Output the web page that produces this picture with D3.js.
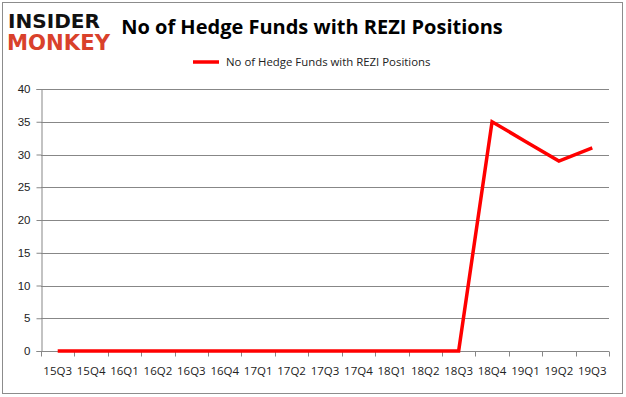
<!DOCTYPE html>
<html>
<head>
<meta charset="utf-8">
<script src="https://cdn.jsdelivr.net/npm/d3@7"></script>
<style>
  body { margin: 0; background: #fff; }
  svg { display: block; font-family: "Open Sans", "DejaVu Sans", sans-serif; }
</style>
</head>
<body>
<div id="chart"></div>
<script>
// chart data
var quarters = ["15Q3","15Q4","16Q1","16Q2","16Q3","16Q4","17Q1","17Q2","17Q3","17Q4",
                "18Q1","18Q2","18Q3","18Q4","19Q1","19Q2","19Q3"];
var funds = [0,0,0,0,0,0,0,0,0,0,0,0,0,35,32,29,31];
var yTicks = [0,5,10,15,20,25,30,35,40];
var seriesName = "No of Hedge Funds with REZI Positions";

var width = 626, height = 397;
var margin = {left: 41, right: 17, top: 89, bottom: 46};

var svg = d3.select("#chart").append("svg")
  .attr("width", width)
  .attr("height", height);

// outer frame
svg.append("rect")
  .attr("x", 2.5).attr("y", 2.5)
  .attr("width", 620).attr("height", 391)
  .attr("fill", "#fff")
  .attr("stroke", "#8c8c8c");

var x = d3.scaleBand()
  .domain(quarters)
  .range([margin.left, width - margin.right]);

var y = d3.scaleLinear()
  .domain([0, 40])
  .range([height - margin.bottom, margin.top]);

// gridlines
svg.append("g")
  .selectAll("line")
  .data(yTicks.filter(d => d > 0))
  .enter().append("line")
  .attr("x1", margin.left).attr("x2", width - margin.right)
  .attr("y1", d => Math.round(y(d)) + 0.5).attr("y2", d => Math.round(y(d)) + 0.5)
  .attr("stroke", "#878787");

// y axis
var yAxis = svg.append("g")
  .attr("transform", "translate(" + (margin.left + 0.5) + ",0)")
  .call(d3.axisLeft(y).tickValues(yTicks).tickSize(5).tickPadding(6));
yAxis.select(".domain").attr("stroke", "#878787");
yAxis.selectAll(".tick line").attr("stroke", "#878787");
yAxis.selectAll("text").attr("font-size", 11.5).attr("fill", "#222");

// x axis (ticks between categories)
var xAxisG = svg.append("g")
  .attr("transform", "translate(0," + (Math.round(y(0)) + 0.5) + ")");
xAxisG.append("line")
  .attr("x1", margin.left).attr("x2", width - margin.right)
  .attr("stroke", "#878787");
var tickPos = quarters.map(q => x(q)).concat([x.range()[1]]);
xAxisG.selectAll(".xt")
  .data(tickPos)
  .enter().append("line")
  .attr("x1", d => Math.round(d) + 0.5).attr("x2", d => Math.round(d) + 0.5)
  .attr("y1", 0).attr("y2", 5)
  .attr("stroke", "#878787");
xAxisG.selectAll("text")
  .data(quarters)
  .enter().append("text")
  .attr("x", d => x(d) + x.bandwidth() / 2)
  .attr("y", 23)
  .attr("text-anchor", "middle")
  .attr("font-size", 11.5)
  .attr("fill", "#222")
  .text(d => d);

// series line
var line = d3.line()
  .x((d, i) => x(quarters[i]) + x.bandwidth() / 2)
  .y(d => y(d));

svg.append("path")
  .datum(funds)
  .attr("d", line)
  .attr("fill", "none")
  .attr("stroke", "#ff0000")
  .attr("stroke-width", 3.5)
  .attr("stroke-linejoin", "miter");

// title
svg.append("text")
  .attr("x", 312).attr("y", 34)
  .attr("text-anchor", "middle")
  .attr("font-size", 20)
  .attr("font-weight", "bold")
  .attr("fill", "#000")
  .text("No of Hedge Funds with REZI Positions");

// legend
svg.append("line")
  .attr("x1", 193).attr("x2", 219)
  .attr("y1", 62).attr("y2", 62)
  .attr("stroke", "#ff0000").attr("stroke-width", 3.5);
svg.append("text")
  .attr("x", 226).attr("y", 66)
  .attr("font-size", 11.4)
  .attr("fill", "#222")
  .text(seriesName);

// logo
var logo = svg.append("g").attr("font-family", "'DejaVu Sans', sans-serif").attr("font-weight", "bold");
logo.append("text")
  .attr("x", 8).attr("y", 28)
  .attr("font-size", 20)
  .attr("textLength", 92)
  .attr("lengthAdjust", "spacingAndGlyphs")
  .attr("fill", "#111")
  .text("INSIDER");
logo.append("text")
  .attr("x", 7).attr("y", 50)
  .attr("font-size", 21)
  .attr("textLength", 103)
  .attr("lengthAdjust", "spacingAndGlyphs")
  .attr("fill", "#d9412b")
  .text("MONKEY");
</script>
</body>
</html>
